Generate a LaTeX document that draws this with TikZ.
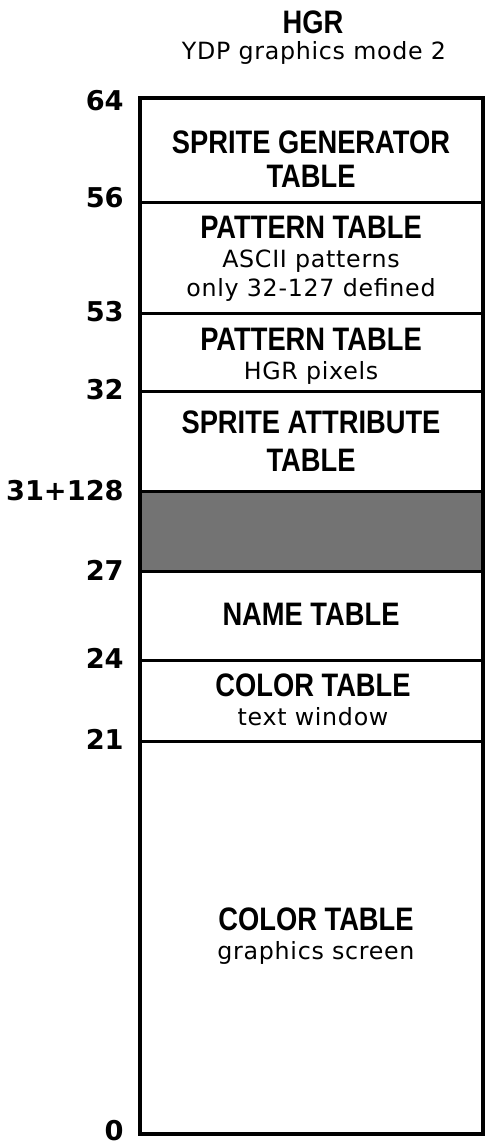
\documentclass[tikz,border=0pt]{standalone}
\usepackage{fontspec}
\setmainfont{DejaVu Sans}
\newfontfamily\headfont[FakeStretch=0.84]{Liberation Sans}
\newfontfamily\notefont[LetterSpace=3]{DejaVu Sans}
\usetikzlibrary{calc}
\newcommand{\subline}[1]{{\notefont\mdseries\fontsize{13.5}{16}\selectfont #1}}
\tikzset{
  head/.style={align=center, inner sep=0pt, font=\headfont\bfseries\fontsize{18.5}{16.5}\selectfont},
  note/.style={align=center, inner sep=0pt, font=\notefont\fontsize{13.5}{16}\selectfont},
  addr/.style={anchor=east, inner sep=0pt, font=\bfseries\fontsize{15.5}{18}\selectfont},
  frame/.style={draw=black, line width=2pt},
  sep/.style={draw=black, line width=1.7pt},
  unused/.style={fill=black!55}
}

\begin{document}
\begin{tikzpicture}[x=0.02cm, y=-0.02cm]
  \useasboundingbox (0,0) rectangle (485,1147);
  \node[head] (title) at (313,22) {HGR};
  \node[note] (mode) at (314,53) {YDP graphics mode 2};

  % address boundaries, top to bottom
  \foreach \y/\ly/\lab [count=\i] in {98/101/64, 202/198/56, 313/312/53, 391/390/32, 491/491/31+128, 571/570/27, 660/658/24, 741/739/21, 1134/1131/0} {
    \coordinate (l\i) at (140,\y);
    \coordinate (r\i) at (483,\y);
    \node[addr] (a\i) at (124,\ly) {\lab};
  }

  \fill[unused] (l5) rectangle (r6);
  \foreach \i in {2,...,8} \draw[sep] (l\i) -- (r\i);
  \draw[frame] (l1) -- (r1) -- (r9) -- (l9) -- cycle;

  % tables
  \node[head] (spritegen) at (311,159) {SPRITE GENERATOR\\[2.5pt]TABLE};
  \node[head] (patascii) at (311,259) {PATTERN TABLE\\\subline{ASCII patterns}\\\subline{only 32-127 defined}};
  \node[head] (pathgr) at (311,356) {PATTERN TABLE\\\subline{HGR pixels}};
  \node[head] (spriteattr) at (311,441) {SPRITE ATTRIBUTE\\[5.5pt]TABLE};
  \node[head] (name) at (311,614) {NAME TABLE};
  \node[head] (colortext) at (313,700) {COLOR TABLE\\\subline{text window}};
  \node[head] (colorgfx) at (316,936) {COLOR TABLE\\\subline{graphics screen}};
\end{tikzpicture}
\end{document}
